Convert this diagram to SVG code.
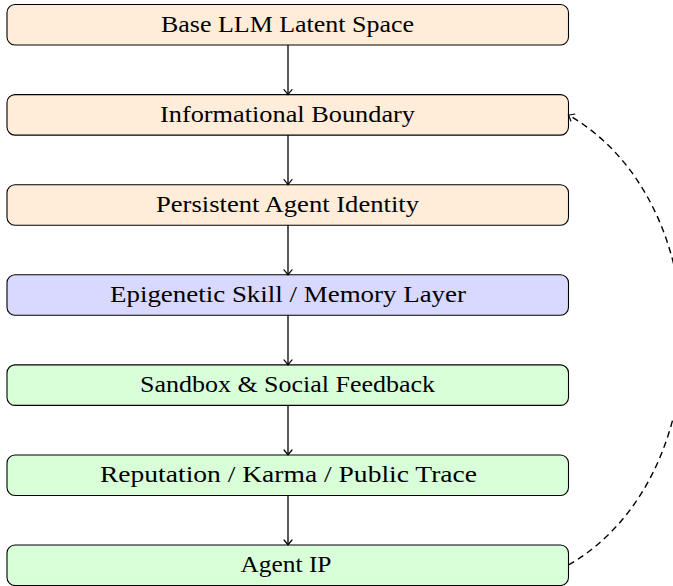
<svg xmlns="http://www.w3.org/2000/svg" width="673" height="586" viewBox="0 0 673 586">
<style>
.box{stroke:#000;stroke-width:1.1}
.orange{fill:#FFECD9}
.blue{fill:#D9D9FF}
.green{fill:#D9FFD9}
text{font-family:"Liberation Serif","DejaVu Serif",serif;font-size:23.5px;fill:#000;text-anchor:middle}
.edge{fill:none;stroke:#000;stroke-width:1.3}
.dash{stroke-dasharray:6.5 4.5;stroke-width:1.4}
</style>
<defs>
<marker id="to" viewBox="-6 -5 8 10" refX="0" refY="0" markerWidth="8" markerHeight="10" markerUnits="userSpaceOnUse" orient="auto">
<path d="M-5,-4 Q-1.5,-1 0,0 Q-1.5,1 -5,4" fill="none" stroke="#000" stroke-width="1.2" stroke-linecap="round"/>
</marker>
</defs>
<rect width="673" height="586" fill="#fff"/>
<g id="n1"><rect class="box orange" x="7" y="4.5" width="561.5" height="40.5" rx="8"/><text x="287.5" y="31.5" textLength="253" lengthAdjust="spacingAndGlyphs">Base LLM Latent Space</text></g>
<g id="n2"><rect class="box orange" x="7" y="94.6" width="561.5" height="40.5" rx="8"/><text x="287.5" y="121.6" textLength="255" lengthAdjust="spacingAndGlyphs">Informational Boundary</text></g>
<g id="n3"><rect class="box orange" x="7" y="184.7" width="561.5" height="40.5" rx="8"/><text x="287.5" y="211.7" textLength="263" lengthAdjust="spacingAndGlyphs">Persistent Agent Identity</text></g>
<g id="n4"><rect class="box blue" x="7" y="274.8" width="561.5" height="40.5" rx="8"/><text x="288" y="301.8" textLength="356" lengthAdjust="spacingAndGlyphs">Epigenetic Skill / Memory Layer</text></g>
<g id="n5"><rect class="box green" x="7" y="364.9" width="561.5" height="40.5" rx="8"/><text x="287.5" y="391.9" textLength="295" lengthAdjust="spacingAndGlyphs">Sandbox &amp; Social Feedback</text></g>
<g id="n6"><rect class="box green" x="7" y="455" width="561.5" height="40.5" rx="8"/><text x="288.5" y="482" textLength="377" lengthAdjust="spacingAndGlyphs">Reputation / Karma / Public Trace</text></g>
<g id="n7"><rect class="box green" x="7" y="545" width="561.5" height="40.5" rx="8"/><text x="286" y="572" textLength="91" lengthAdjust="spacingAndGlyphs">Agent IP</text></g>
<g id="edges">
<path class="edge" d="M288,45 V94.6" marker-end="url(#to)"/>
<path class="edge" d="M288,135.1 V184.7" marker-end="url(#to)"/>
<path class="edge" d="M288,225.2 V274.8" marker-end="url(#to)"/>
<path class="edge" d="M288,315.3 V364.9" marker-end="url(#to)"/>
<path class="edge" d="M288,405.4 V455" marker-end="url(#to)"/>
<path class="edge" d="M288,495.5 V545" marker-end="url(#to)"/>
<path class="edge dash" d="M568.5,565 C721,477 721,203 568.5,115" marker-end="url(#to)"/>
</g>
</svg>
